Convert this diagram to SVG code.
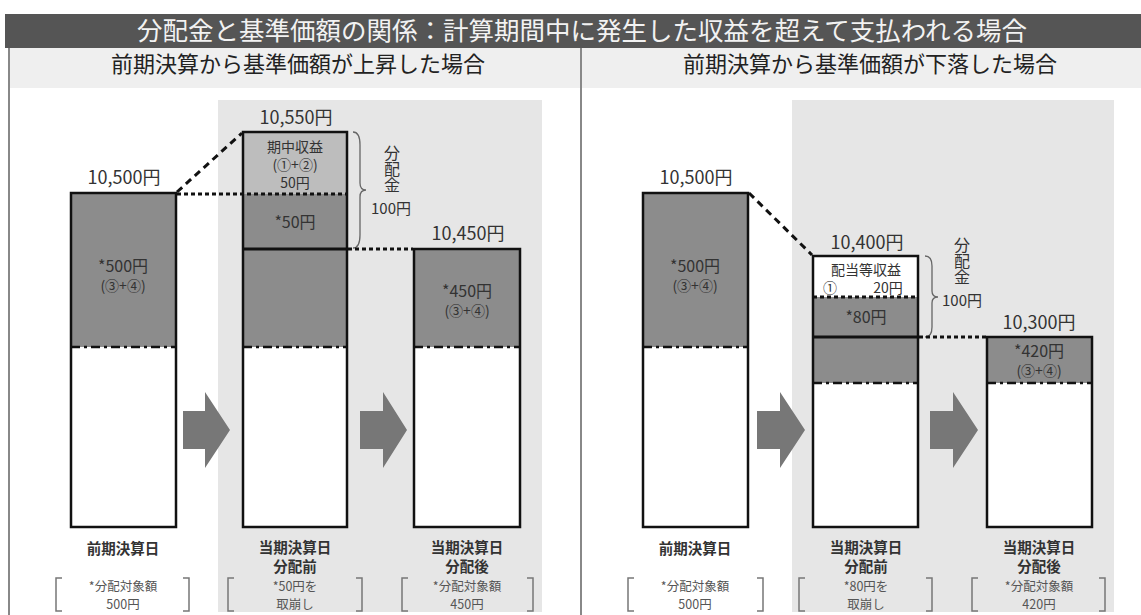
<svg xmlns="http://www.w3.org/2000/svg" width="1141" height="615" viewBox="0 0 1141 615">
<defs>
<style>
text{font-family:"Noto Sans CJK JP","Noto Sans",sans-serif;text-anchor:middle}
.title{font-size:25.5px;fill:#f2f2f2}
.sub{font-size:22px;fill:#222}
.val{font-size:18px;fill:#333}
.in{font-size:16px;fill:#333}
.sm{font-size:14px;fill:#333}
.lbl{font-size:14.5px;fill:#333;font-weight:bold}
.br{font-size:12.5px;fill:#555}
.vt{font-size:15px;fill:#333}
.vert{font-size:16px;fill:#333;writing-mode:vertical-rl;text-anchor:start}
.dark{fill:#8c8c8c}
.light{fill:#bdbdbd}
.wh{fill:#fff}
.out{fill:none;stroke:#111;stroke-width:2.5}
.dd{stroke:#111;stroke-width:2.5;stroke-dasharray:9 4 3 4;fill:none}
.dot{stroke:#111;stroke-width:3;stroke-dasharray:4 3;fill:none}
.dash{stroke:#111;stroke-width:3;stroke-dasharray:7 5;fill:none}
.solid{stroke:#111;stroke-width:3}
.brace{fill:none;stroke:#666;stroke-width:1.3}
.bkt{fill:none;stroke:#777;stroke-width:1.5}
.arrow{fill:#777}
</style>
</defs>
<rect width="1141" height="615" fill="#fff"/>
<g id="header">
<rect x="5" y="14" width="1136" height="34" fill="#555"/>
<text class="title" x="582" y="40">分配金と基準価額の関係：計算期間中に発生した収益を超えて支払われる場合</text>
<rect x="9" y="48" width="1132" height="40" fill="#efefef"/>
<text class="sub" x="298" y="72">前期決算から基準価額が上昇した場合</text>
<text class="sub" x="870" y="72">前期決算から基準価額が下落した場合</text>
<line x1="9" y1="48" x2="9" y2="615" stroke="#888" stroke-width="2"/>
<line x1="581" y1="48" x2="581" y2="615" stroke="#888" stroke-width="2"/>
</g>
<rect x="218" y="100" width="324" height="512" fill="#e6e6e6"/>
<rect x="792" y="100" width="322" height="512" fill="#e6e6e6"/>

<g id="L-bar1">
<rect class="dark" x="71" y="193" width="105" height="154"/>
<rect class="wh" x="71" y="347" width="105" height="180"/>
<line class="dd" x1="71" y1="347" x2="176" y2="347"/>
<rect class="out" x="71" y="193" width="105" height="334"/>
<text class="val" x="124" y="184">10,500円</text>
<text class="in" x="123" y="272">*500円</text>
<text class="sm" x="123" y="291">(③+④)</text>
<text class="lbl" x="123" y="554">前期決算日</text>
<path class="bkt" d="M62,578 H56 V611 H62 M183,578 H189 V611 H183"/>
<text class="br" x="123" y="591">*分配対象額</text>
<text class="br" x="123" y="609">500円</text>
</g>
<g id="L-bar2">
<rect class="light" x="243" y="132" width="104" height="62"/>
<rect class="dark" x="243" y="194" width="104" height="153"/>
<rect class="wh" x="243" y="347" width="104" height="180"/>
<line class="solid" x1="243" y1="249" x2="347" y2="249"/>
<line class="dd" x1="243" y1="347" x2="347" y2="347"/>
<rect class="out" x="243" y="132" width="104" height="395"/>
<text class="val" x="296" y="124">10,550円</text>
<text class="sm" x="295" y="152">期中収益</text>
<text class="sm" x="295" y="170">(①+②)</text>
<text class="sm" x="295" y="188">50円</text>
<text class="in" x="295" y="228">*50円</text>
<path class="brace" d="M353,132 Q360,132 360,145 L360,183 Q360,190 366,190 Q360,190 360,197 L360,235 Q360,248 353,248"/>
<text class="vert" x="392" y="145">分配金</text>
<text class="vt" x="391" y="214">100円</text>
<text class="lbl" x="295" y="553">当期決算日</text>
<text class="lbl" x="295" y="572">分配前</text>
<path class="bkt" d="M234,578 H228 V611 H234 M356,578 H362 V611 H356"/>
<text class="br" x="295" y="591">*50円を</text>
<text class="br" x="295" y="609">取崩し</text>
</g>
<g id="L-bar3">
<rect class="dark" x="414" y="249" width="106" height="98"/>
<rect class="wh" x="414" y="347" width="106" height="180"/>
<line class="dd" x1="414" y1="347" x2="520" y2="347"/>
<rect class="out" x="414" y="249" width="106" height="278"/>
<text class="val" x="468" y="240">10,450円</text>
<text class="in" x="467" y="297">*450円</text>
<text class="sm" x="467" y="316">(③+④)</text>
<text class="lbl" x="467" y="553">当期決算日</text>
<text class="lbl" x="467" y="572">分配後</text>
<path class="bkt" d="M408,578 H402 V611 H408 M527,578 H533 V611 H527"/>
<text class="br" x="467" y="591">*分配対象額</text>
<text class="br" x="467" y="609">450円</text>
</g>

<g id="R-bar1">
<rect class="dark" x="643" y="193" width="105" height="154"/>
<rect class="wh" x="643" y="347" width="105" height="180"/>
<line class="dd" x1="643" y1="347" x2="748" y2="347"/>
<rect class="out" x="643" y="193" width="105" height="334"/>
<text class="val" x="696" y="184">10,500円</text>
<text class="in" x="695" y="272">*500円</text>
<text class="sm" x="695" y="291">(③+④)</text>
<text class="lbl" x="695" y="554">前期決算日</text>
<path class="bkt" d="M634,578 H628 V611 H634 M757,578 H763 V611 H757"/>
<text class="br" x="695" y="591">*分配対象額</text>
<text class="br" x="695" y="609">500円</text>
</g>
<g id="R-bar2">
<rect class="wh" x="813" y="256" width="105" height="41"/>
<rect class="dark" x="813" y="297" width="105" height="86"/>
<rect class="wh" x="813" y="383" width="105" height="144"/>
<line class="dot" x1="813" y1="297" x2="918" y2="297"/>
<line class="solid" x1="813" y1="337" x2="918" y2="337"/>
<line class="dd" x1="813" y1="383" x2="918" y2="383"/>
<rect class="out" x="813" y="256" width="105" height="271"/>
<text class="val" x="867" y="249">10,400円</text>
<text class="sm" x="866" y="275">配当等収益</text>
<text class="sm" x="830" y="293">①</text>
<text class="sm" x="888" y="293">20円</text>
<text class="in" x="866" y="323">*80円</text>
<path class="brace" d="M925,256 Q932,256 932,266 L932,291 Q932,297 938,297 Q932,297 932,303 L932,327 Q932,337 925,337"/>
<text class="vert" x="962" y="237">分配金</text>
<text class="vt" x="962" y="306">100円</text>
<text class="lbl" x="866" y="553">当期決算日</text>
<text class="lbl" x="866" y="572">分配前</text>
<path class="bkt" d="M805,578 H799 V611 H805 M926,578 H932 V611 H926"/>
<text class="br" x="866" y="591">*80円を</text>
<text class="br" x="866" y="609">取崩し</text>
</g>
<g id="R-bar3">
<rect class="dark" x="987" y="337" width="105" height="46"/>
<rect class="wh" x="987" y="383" width="105" height="144"/>
<line class="dd" x1="987" y1="383" x2="1092" y2="383"/>
<rect class="out" x="987" y="337" width="105" height="190"/>
<text class="val" x="1039" y="329">10,300円</text>
<text class="in" x="1039" y="357">*420円</text>
<text class="sm" x="1039" y="376">(③+④)</text>
<text class="lbl" x="1039" y="553">当期決算日</text>
<text class="lbl" x="1039" y="572">分配後</text>
<path class="bkt" d="M978,578 H972 V611 H978 M1099,578 H1105 V611 H1099"/>
<text class="br" x="1039" y="591">*分配対象額</text>
<text class="br" x="1039" y="609">420円</text>
</g>

<g id="connectors">
<line class="dash" x1="177" y1="192" x2="242" y2="133"/>
<line class="dot" x1="177" y1="194" x2="347" y2="194"/>
<line class="dot" x1="348" y1="249" x2="413" y2="249"/>
<line class="dash" x1="749" y1="193" x2="812" y2="255"/>
<line class="dot" x1="919" y1="337" x2="986" y2="337"/>
<polygon class="arrow" points="183,411 205,411 205,392 230,430 205,468 205,449 183,449"/>
<polygon class="arrow" points="360,411 383,411 383,392 407,430 383,468 383,449 360,449"/>
<polygon class="arrow" points="757,411 780,411 780,392 805,430 780,468 780,449 757,449"/>
<polygon class="arrow" points="930,411 953,411 953,392 978,430 953,468 953,449 930,449"/>
</g>
</svg>
